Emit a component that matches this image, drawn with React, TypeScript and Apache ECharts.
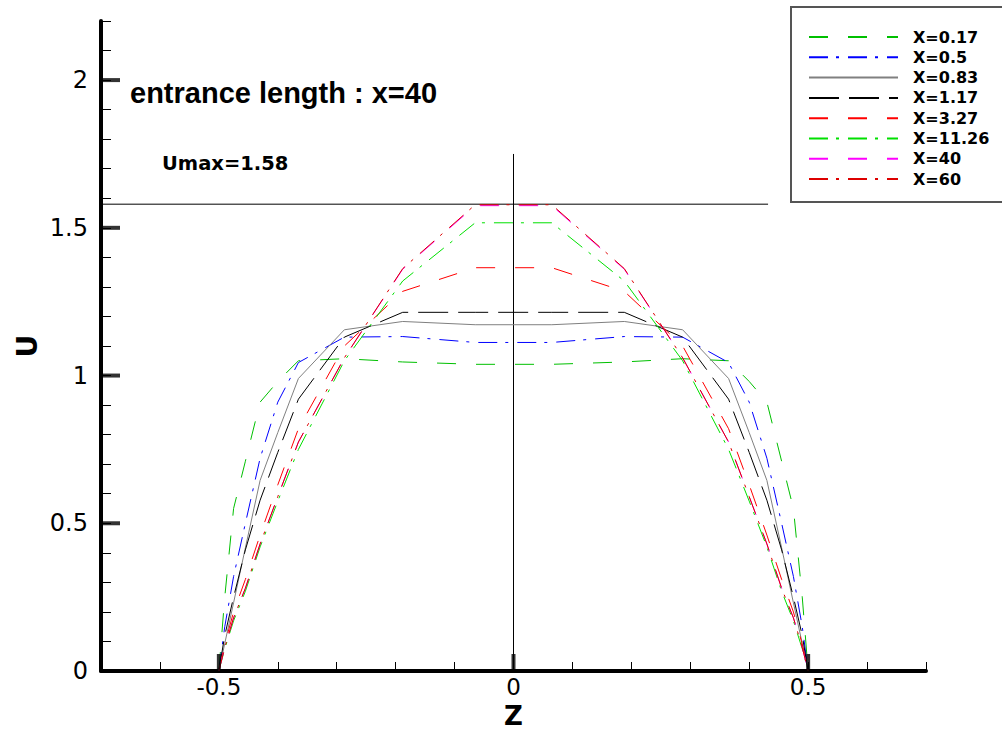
import React, { useEffect, useRef } from "react";
import * as echarts from "echarts";

// ---------- data ----------
const zGrid = [-0.5, -0.49, -0.475, -0.455, -0.43, -0.4, -0.365, -0.287, -0.188, -0.065,
  0.065, 0.188, 0.287, 0.365, 0.4, 0.43, 0.455, 0.475, 0.49, 0.5];

const u017 = [0, 0.25, 0.55, 0.71, 0.91, 0.98, 1.05, 1.057, 1.046, 1.038,
  1.038, 1.046, 1.057, 1.05, 0.98, 0.91, 0.71, 0.55, 0.25, 0];
const u05 = [0, 0.15, 0.32, 0.5, 0.72, 0.91, 1.044, 1.13, 1.132, 1.112,
  1.112, 1.132, 1.13, 1.044, 0.91, 0.72, 0.5, 0.32, 0.15, 0];
const u083 = [0, 0.093, 0.231, 0.417, 0.645, 0.807, 0.99, 1.155, 1.183, 1.172,
  1.172, 1.183, 1.155, 0.99, 0.807, 0.645, 0.417, 0.231, 0.093, 0];
const u117 = [0, 0.12, 0.25, 0.41, 0.578, 0.74, 0.92, 1.13, 1.214, 1.214,
  1.214, 1.214, 1.13, 0.92, 0.74, 0.578, 0.41, 0.25, 0.12, 0];
const u327 = [0, 0.09, 0.2, 0.31, 0.46, 0.63, 0.82, 1.1, 1.285, 1.365,
  1.365, 1.285, 1.1, 0.82, 0.63, 0.46, 0.31, 0.2, 0.09, 0];
const u1126 = [0, 0.075, 0.17, 0.27, 0.42, 0.575, 0.75, 1.05, 1.32, 1.517,
  1.517, 1.32, 1.05, 0.75, 0.575, 0.42, 0.27, 0.17, 0.075, 0];
const u40 = [0, 0.08, 0.18, 0.28, 0.43, 0.59, 0.775, 1.06, 1.36, 1.575,
  1.575, 1.36, 1.06, 0.775, 0.59, 0.43, 0.28, 0.18, 0.08, 0];
const u60 = [0, 0.08, 0.18, 0.28, 0.43, 0.59, 0.775, 1.06, 1.362, 1.578,
  1.578, 1.362, 1.06, 0.775, 0.59, 0.43, 0.28, 0.18, 0.08, 0];

const seriesNames = ["X=0.17", "X=0.5", "X=0.83", "X=1.17", "X=3.27", "X=11.26", "X=40", "X=60"];
const seriesValues = [u017, u05, u083, u117, u327, u1126, u40, u60];

const xTickValues = [-0.5, 0, 0.5];
const xTickLabels = ["-0.5", "0", "0.5"];
const yTickValues = [0, 0.5, 1, 1.5, 2];
const yTickLabels = ["0", "0.5", "1", "1.5", "2"];
const yMajorTicks = [0.5, 1, 1.5, 2];

const uMax = 1.58;
const uMaxLineEnd = 0.432;
const centerLineTop = 1.75;

// ---------- styles ----------
const colors = ["#00c000", "#0000ff", "#808080", "#000000", "#ff0000", "#00e000", "#ff00ff", "#dd0000"];
const DASH = [19, 20];
const DASHDOT = [19, 8, 3, 9];
const LONGDASH = [30, 10];
const dashTypes: any[] = [DASH, DASHDOT, "solid", LONGDASH, DASH, DASHDOT, DASH, DASHDOT];

function findLabel(values: number[], labels: string[], v: number) {
  const i = values.findIndex((t) => Math.abs(t - v) < 1e-6);
  return i >= 0 ? labels[i] : "";
}

export default function App() {
  const ref = useRef<HTMLDivElement>(null);

  useEffect(() => {
    if (!ref.current) return;
    const chart = echarts.init(ref.current, null, { renderer: "svg" });

    const curveSeries = seriesNames.map((name, i) => ({
      name,
      type: "line",
      data: zGrid.map((z, k) => [z, seriesValues[i][k]]),
      symbol: "none",
      showSymbol: false,
      lineStyle: { color: colors[i], width: 1, type: dashTypes[i] },
      itemStyle: { color: colors[i] },
      z: 3 + i,
    }));

    const option: any = {
      animation: false,
      backgroundColor: "#ffffff",
      grid: {
        left: 101,
        width: 825,
        top: 21,
        height: 650,
        containLabel: false,
        outerBoundsMode: "none",
      },
      xAxis: {
        type: "value",
        min: -0.7,
        max: 0.7,
        interval: 0.1,
        axisLine: { show: true, onZero: false, lineStyle: { color: "#000", width: 4 } },
        axisTick: { show: true, inside: true, length: 9, lineStyle: { color: "#000", width: 1 } },
        axisLabel: {
          formatter: (v: number) => findLabel(xTickValues, xTickLabels, v),
          fontFamily: "DejaVu Sans",
          fontSize: 23,
          lineHeight: 20,
          color: "#000",
          margin: 6,
        },
        splitLine: { show: false },
        name: "Z",
        nameLocation: "middle",
        nameGap: 33,
        nameMoveOverlap: false,
        nameTextStyle: {
          fontFamily: "DejaVu Sans",
          fontWeight: "bold",
          fontSize: 26,
          lineHeight: 24,
          color: "#000",
        },
      },
      yAxis: {
        type: "value",
        min: 0,
        max: 2.2,
        interval: 0.1,
        axisLine: { show: true, onZero: false, lineStyle: { color: "#000", width: 4 } },
        axisTick: { show: true, inside: true, length: 10, lineStyle: { color: "#000", width: 1 } },
        axisLabel: {
          formatter: (v: number) => findLabel(yTickValues, yTickLabels, v),
          fontFamily: "DejaVu Sans",
          fontSize: 24,
          color: "#000",
          margin: 13,
        },
        splitLine: { show: false },
        name: "U",
        nameLocation: "middle",
        nameRotate: 90,
        nameGap: 60,
        nameMoveOverlap: false,
        nameTextStyle: { fontFamily: "DejaVu Sans", fontWeight: "bold", fontSize: 28, color: "#000" },
      },
      legend: {
        orient: "vertical",
        left: 808,
        top: 29,
        padding: 0,
        itemWidth: 89,
        itemHeight: 16,
        itemGap: 4.3,
        selectedMode: false,
        data: seriesNames,
        itemStyle: { opacity: 0 },
        textStyle: {
          fontFamily: "DejaVu Sans",
          fontWeight: "bold",
          fontSize: 16,
          lineHeight: 16,
          color: "#000",
          padding: [0, 0, 0, 10],
        },
      },
      graphic: [
        {
          type: "rect",
          shape: { x: 791, y: 7, width: 260, height: 195 },
          style: { fill: "none", stroke: "#555", lineWidth: 2 },
          z: 1,
        },
        {
          type: "text",
          x: 130,
          y: 93,
          style: {
            text: "entrance length : x=40",
            font: "bold 29px 'Liberation Sans', Arial, sans-serif",
            fill: "#000",
            verticalAlign: "middle",
            align: "left",
          },
        },
        {
          type: "text",
          x: 162,
          y: 163,
          style: {
            text: "Umax=1.58",
            font: "bold 19.5px 'DejaVu Sans', sans-serif",
            fill: "#000",
            verticalAlign: "middle",
            align: "left",
          },
        },
      ],
      series: [
        {
          name: "centerline",
          type: "line",
          data: [[0, 0], [0, centerLineTop]],
          symbol: "none",
          lineStyle: { color: "#000", width: 1 },
          z: 2,
        },
        {
          name: "umaxline",
          type: "line",
          data: [[-0.7, uMax], [uMaxLineEnd, uMax]],
          symbol: "none",
          lineStyle: { color: "#000", width: 1 },
          z: 2,
        },
        ...curveSeries,
        {
          name: "xMajorTicks",
          type: "scatter",
          data: xTickValues.map((v) => [v, 0]),
          symbol: "rect",
          symbolSize: [4, 17],
          symbolOffset: [0, "-50%"],
          itemStyle: { color: "#000" },
          clip: false,
          z: 20,
        },
        {
          name: "yMajorTicks",
          type: "scatter",
          data: yMajorTicks.map((v) => [-0.7, v]),
          symbol: "rect",
          symbolSize: [19, 4],
          symbolOffset: ["50%", 0],
          itemStyle: { color: "#000" },
          clip: false,
          z: 20,
        },
      ],
    };

    chart.setOption(option);
    return () => chart.dispose();
  }, []);

  return (
    <div
      ref={ref}
      style={{ position: "fixed", left: 0, top: 0, width: 1002, height: 731, background: "#fff" }}
    />
  );
}
